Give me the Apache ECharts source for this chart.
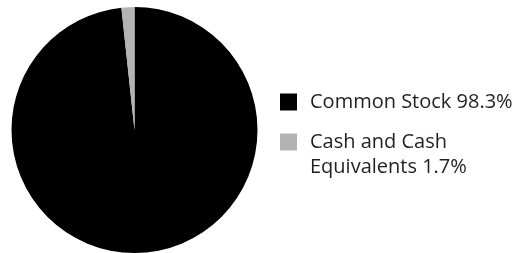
<!DOCTYPE html>
<html>
<head>
<meta charset="utf-8">
<script src="https://cdn.jsdelivr.net/npm/echarts@6/dist/echarts.min.js"></script>
<style>
  html, body { margin: 0; padding: 0; background: #fff; }
  #chart { width: 515px; height: 253px; }
</style>
</head>
<body>
<div id="chart"></div>
<script>
// holdings split (percent)
var names = ['Common Stock', 'Cash and Cash Equivalents'];
var values = [98.3, 1.7];
var colors = ['#000000', '#b3b3b3'];
// leading blank line keeps the square level with the first text line
var legendText = ['Common Stock 98.3%', '\nCash and Cash\nEquivalents 1.7%'];

var chart = echarts.init(document.getElementById('chart'), null, { renderer: 'canvas' });

var pieData = names.map(function (n, i) {
  return { name: n, value: values[i], itemStyle: { color: colors[i] } };
});

function legendFor(i, top) {
  return {
    orient: 'vertical',
    left: 280,
    top: top,
    itemWidth: 17,
    itemHeight: 17,
    icon: 'rect',
    padding: 0,
    selectedMode: false,
    data: [names[i]],
    formatter: function () { return legendText[i]; },
    textStyle: {
      fontFamily: 'Open Sans',
      fontSize: 20,
      lineHeight: 25,
      color: '#231f20',
      padding: [0, 0, 0, 8]
    }
  };
}

chart.setOption({
  animation: false,
  legend: [
    legendFor(0, 89.5),
    legendFor(1, 104.5)
  ],
  series: [{
    type: 'pie',
    center: [134.5, 130],
    radius: [0, 123],
    startAngle: 90,
    clockwise: true,
    label: { show: false },
    labelLine: { show: false },
    emphasis: { disabled: true },
    itemStyle: { borderWidth: 0 },
    data: pieData
  }]
});
</script>
</body>
</html>
